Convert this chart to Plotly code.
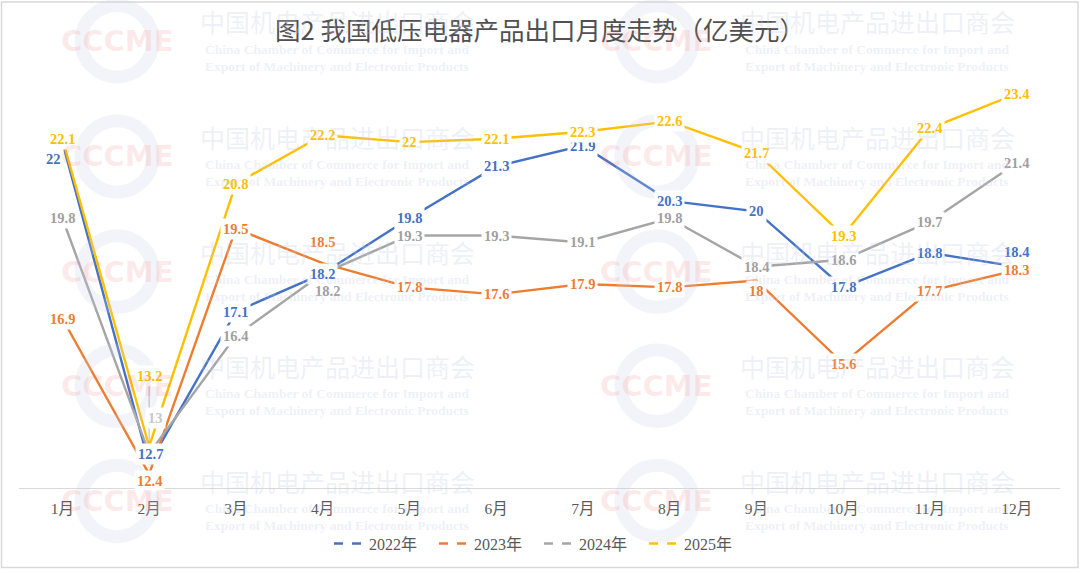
import plotly.graph_objects as go

# ---------------- data ----------------
months = ["1月", "2月", "3月", "4月", "5月", "6月", "7月", "8月", "9月", "10月", "11月", "12月"]
y2022 = [22, 12.7, 17.1, 18.2, 19.8, 21.3, 21.9, 20.3, 20, 17.8, 18.8, 18.4]
y2023 = [16.9, 12.4, 19.5, 18.5, 17.8, 17.6, 17.9, 17.8, 18, 15.6, 17.7, 18.3]
y2024 = [19.8, 13, 16.4, 18.2, 19.3, 19.3, 19.1, 19.8, 18.4, 18.6, 19.7, 21.4]
y2025 = [22.1, 13.2, 20.8, 22.2, 22, 22.1, 22.3, 22.6, 21.7, 19.3, 22.4, 23.4]
series_names = ["2022年", "2023年", "2024年", "2025年"]
title_text = "图2 我国低压电器产品出口月度走势（亿美元）"

# ---------------- styles ----------------
colors = {"2022年": "#4472C4", "2023年": "#ED7D31", "2024年": "#A5A5A5", "2025年": "#FFC000"}
label_colors = {"2022年": "#4472C4", "2023年": "#ED7D31", "2024年": "#A0A0A0", "2025年": "#FFC000"}
# label offsets in pixels (dx right, dy down) relative to the data point
label_offsets = {
    ("2022年", 0): (-9, 17), ("2022年", 1): (1, -10), ("2022年", 11): (0, -15),
    ("2023年", 1): (0, 7), ("2023年", 3): (0, -21), ("2023年", 8): (0, 10),
    ("2024年", 1): (6, -35), ("2024年", 3): (5, 17),
    ("2025年", 1): (0, -71),
}
leader_labels = {("2025年", 1)}
faint_labels = {("2024年", 1): "#C8C8C8"}

W, H = 1080, 573
ML, MR, MT, MB = 19, 20, 73, 82
PW, PH = W - ML - MR, H - MT - MB


def px2paper(px, py):
    return (px - ML) / PW, (MT + PH - py) / PH


serif = "Liberation Serif, Times New Roman, Noto Sans CJK SC, serif"
data = {"2022年": y2022, "2023年": y2023, "2024年": y2024, "2025年": y2025}

fig = go.Figure()
for name in series_names:
    fig.add_trace(go.Scatter(
        x=months, y=data[name], mode="lines", name=name, showlegend=False,
        line=dict(color=colors[name], width=2.4), hoverinfo="x+y+name",
    ))
# legend entries (dashed symbols as in the reference legend)
for name in series_names:
    fig.add_trace(go.Scatter(
        x=[None], y=[None], mode="lines", name=name + "   ", showlegend=True,
        line=dict(color=colors[name], width=2.4, dash="dash"),
    ))

annotations = []
# leader-line labels first
for name in series_names:
    for i, (m, v) in enumerate(zip(months, data[name])):
        key = (name, i)
        if key not in leader_labels:
            continue
        dx, dy = label_offsets.get(key, (0, 0))
        annotations.append(dict(
            x=m, y=v, xref="x", yref="y", text=f"{v:g}", showarrow=True,
            ax=dx, ay=dy, arrowhead=0, arrowwidth=0.8, arrowcolor="#A6A6A6",
            standoff=0, startstandoff=0,
            font=dict(family=serif, size=14.5, color=label_colors[name], weight="bold"),
            bgcolor="white", borderpad=2,
        ))
for name in series_names:
    for i, (m, v) in enumerate(zip(months, data[name])):
        key = (name, i)
        if key in leader_labels:
            continue
        dx, dy = label_offsets.get(key, (0, 0))
        annotations.append(dict(
            x=m, y=v, xref="x", yref="y", text=f"{v:g}", showarrow=False,
            xshift=dx, yshift=-dy,
            font=dict(family=serif, size=14.5, color=faint_labels.get(key, label_colors[name]), weight="bold"),
            bgcolor="white", borderpad=2,
        ))

# ---------------- watermark (decorative overlay) ----------------
shapes = []
wm_rows = [41, 157, 273, 388, 504]
wm_cols = [117, 657]
for ly in wm_rows:
    for lx in wm_cols:
        r = 36
        x0, y0 = px2paper(lx - r, ly + r)
        x1, y1 = px2paper(lx + r, ly - r)
        shapes.append(dict(type="circle", xref="paper", yref="paper", x0=x0, y0=y0, x1=x1, y1=y1,
                           line=dict(color="rgba(200,204,226,0.22)", width=13), layer="above"))
        cx, cy = px2paper(lx, ly)
        annotations.append(dict(x=cx, y=cy, xref="paper", yref="paper", text="<b>CCCME</b>",
                                xanchor="center", yanchor="middle",
                                showarrow=False, font=dict(family="DejaVu Sans", size=29,
                                                           color="rgba(238,120,120,0.16)")))
        tx, ty = px2paper(lx + 220, ly - 20)
        annotations.append(dict(x=tx, y=ty, xref="paper", yref="paper", text="中国机电产品进出口商会",
                                xanchor="center", yanchor="middle",
                                showarrow=False, font=dict(family="Noto Sans CJK SC", size=25,
                                                           color="rgba(200,204,228,0.3)")))
        ex, ey = px2paper(lx + 220, ly + 8)
        annotations.append(dict(x=ex, y=ey, xref="paper", yref="paper",
                                text="<b>China Chamber of Commerce for Import and</b>",
                                xanchor="center", yanchor="middle",
                                showarrow=False, font=dict(family="Liberation Serif", size=13.5,
                                                           color="rgba(200,204,228,0.3)")))
        ex, ey = px2paper(lx + 220, ly + 25)
        annotations.append(dict(x=ex, y=ey, xref="paper", yref="paper",
                                text="<b>Export of Machinery and Electronic Products</b>",
                                xanchor="center", yanchor="middle",
                                showarrow=False, font=dict(family="Liberation Serif", size=13.5,
                                                           color="rgba(200,204,228,0.3)")))

# outer border
bx0, by0 = px2paper(1.5, 571)
bx1, by1 = px2paper(1078, 1.5)
shapes.append(dict(type="rect", xref="paper", yref="paper", x0=bx0, y0=by0, x1=bx1, y1=by1,
                   line=dict(color="#D9D9D9", width=1.5), layer="below"))

fig.update_layout(
    width=W, height=H,
    margin=dict(l=ML, r=MR, t=MT, b=MB, pad=0),
    paper_bgcolor="white", plot_bgcolor="white",
    title=dict(text=title_text, x=0.5, xanchor="center", y=1 - 31 / H, yanchor="middle",
               yref="container",
               font=dict(family="Noto Sans CJK SC", size=25.5, color="#505050")),
    xaxis=dict(type="category", range=[-0.5, 11.5], showline=True, linecolor="#D9D9D9",
               linewidth=1, showgrid=False, zeroline=False, ticks="outside", ticklen=6,
               tickcolor="rgba(0,0,0,0)",
               tickfont=dict(family=serif, size=15.5, color="#595959")),
    yaxis=dict(range=[12, 24], visible=False, showgrid=False, zeroline=False),
    legend=dict(orientation="h", x=0.5, xanchor="center", y=(491 - 547) / PH, yanchor="middle",
                font=dict(family=serif, size=16, color="#595959"), bgcolor="rgba(0,0,0,0)",
                itemwidth=30),
    annotations=annotations,
    shapes=shapes,
    showlegend=True,
)

fig.write_html("out.html")
